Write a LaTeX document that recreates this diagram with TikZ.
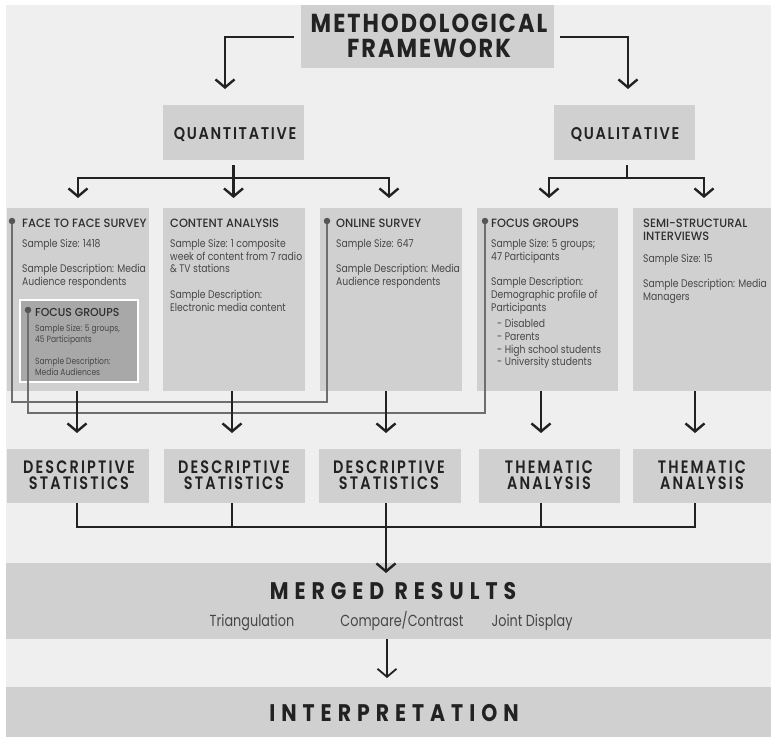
\documentclass[tikz,border=0pt]{standalone}
\usepackage{fontspec}
\setmainfont{Poppins}
\usetikzlibrary{arrows.meta}

% type faces
\newfontfamily\fTitle{Poppins Bold}[FakeStretch=0.86,LetterSpace=8]
\newfontfamily\fBranch{Poppins SemiBold}[FakeStretch=0.85,LetterSpace=10]
\newfontfamily\fResult{Poppins SemiBold}[FakeStretch=0.8,LetterSpace=12]
\newfontfamily\fBig{Poppins Bold}[FakeStretch=0.85,LetterSpace=25]
\newfontfamily\fHead{Poppins Medium}[FakeStretch=0.95]
\newfontfamily\fBody{Poppins}[FakeStretch=0.84]
\newfontfamily\fSub{Poppins}[FakeStretch=0.8]

% palette
\definecolor{bg}{HTML}{EFEFEF}
\definecolor{boxgray}{HTML}{D0D0D0}
\definecolor{darkbox}{HTML}{A8A8A8}
\definecolor{ink}{HTML}{222222}
\definecolor{headink}{HTML}{2E2E2E}
\definecolor{bodyink}{HTML}{474747}
\definecolor{linkgray}{HTML}{6E6E6E}
\definecolor{dotgray}{HTML}{555555}

\begin{document}
\begin{tikzpicture}[x=1pt,y=-1pt,
  box/.style={fill=boxgray, inner sep=0pt, anchor=north west},
  rule/.style={draw=ink, line width=2.4pt},
  flow/.style={rule, -{Straight Barb[length=8pt,width=19pt]}},
  thinflow/.style={draw=ink, line width=1.8pt, -{Straight Barb[length=8pt,width=19pt]}},
  link/.style={draw=linkgray, line width=1.3pt},
  dot/.style={circle, fill=dotgray, inner sep=0pt, minimum size=6.5pt},
  txt/.style={inner sep=0pt, anchor=base west},
  ctxt/.style={inner sep=0pt, anchor=base},
  titletxt/.style={ctxt, text=ink, font=\fTitle\fontsize{26}{26}\selectfont},
  branchtxt/.style={ctxt, text=ink, font=\fBranch\fontsize{17}{17}\selectfont},
  resulttxt/.style={inner sep=0pt, anchor=center, align=center, text=ink,
                    font=\fResult\fontsize{18}{16}\selectfont},
  bigtxt/.style={ctxt, text=ink, font=\fBig\fontsize{24}{24}\selectfont},
  subtxt/.style={ctxt, text=bodyink, font=\fSub\fontsize{16}{16}\selectfont},
  headtxt/.style={txt, text=headink, font=\fHead\fontsize{12}{12}\selectfont},
  bodytxt/.style={txt, text=bodyink, font=\fBody\fontsize{11}{11}\selectfont},
  smalltxt/.style={txt, text=bodyink, font=\fBody\fontsize{9}{9}\selectfont},
]
\useasboundingbox (0,0) rectangle (771,737);
\fill[bg] (6,5) rectangle (771,737);

% ---------- boxes ----------
\node[box, minimum width=253pt, minimum height=63pt] (title) at (301,5) {};
\node[box, minimum width=141pt, minimum height=55pt] (quant) at (163,105) {};
\node[box, minimum width=141pt, minimum height=55pt] (qual)  at (554,105) {};

\node[box, minimum width=142pt, minimum height=183pt] (m1) at (7,208) {};
\node[box, minimum width=142pt, minimum height=183pt] (m2) at (163,208) {};
\node[box, minimum width=142pt, minimum height=183pt] (m3) at (320,208) {};
\node[box, minimum width=141pt, minimum height=183pt] (m4) at (477,208) {};
\node[box, minimum width=138pt, minimum height=183pt] (m5) at (633,208) {};
\node[box, fill=darkbox, draw=white, line width=2pt,
      minimum width=118pt, minimum height=82pt] (fg) at (19,299) {};

\node[box, minimum width=142pt, minimum height=54pt] (r1) at (7,449) {};
\node[box, minimum width=141pt, minimum height=54pt] (r2) at (164,449) {};
\node[box, minimum width=142pt, minimum height=54pt] (r3) at (319,449) {};
\node[box, minimum width=141pt, minimum height=54pt] (r4) at (479,449) {};
\node[box, minimum width=138pt, minimum height=54pt] (r5) at (633,449) {};

\node[box, minimum width=765pt, minimum height=76pt] (merged) at (6,563) {};
\node[box, minimum width=765pt, minimum height=50pt] (interp) at (6,687) {};

% ---------- headings ----------
\node[titletxt] (tl1) at (429,32) {METHODOLOGICAL};
\node[titletxt] (tl2) at (429,57) {FRAMEWORK};
\node[branchtxt] (qnt) at (235,139) {QUANTITATIVE};
\node[branchtxt] (qlt) at (625,139) {QUALITATIVE};

\node[resulttxt] (r1t) at (79,475.5) {DESCRIPTIVE\\STATISTICS};
\node[resulttxt] (r2t) at (234,475.5) {DESCRIPTIVE\\STATISTICS};
\node[resulttxt] (r3t) at (389,475.5) {DESCRIPTIVE\\STATISTICS};
\node[resulttxt] (r4t) at (549,475.5) {THEMATIC\\ANALYSIS};
\node[resulttxt] (r5t) at (702,475.5) {THEMATIC\\ANALYSIS};

\node[bigtxt] (mrg) at (393,599.5) {MERGED RESULTS};
\node[subtxt] (s1) at (252,626) {Triangulation};
\node[subtxt] (s2) at (402,626) {Compare/Contrast};
\node[subtxt] (s3) at (532,626) {Joint Display};
\node[bigtxt] (itp) at (394,721.5) {INTERPRETATION};

% ---------- method box contents ----------
\node[headtxt] (h1) at (22,227) {FACE TO FACE SURVEY};
\node[bodytxt] (b11) at (22,247) {Sample Size: 1418};
\node[bodytxt] (b12) at (22,272.5) {Sample Description: Media};
\node[bodytxt] (b13) at (22,285) {Audience respondents};

\node[headtxt, font=\fHead\fontsize{11.5}{11.5}\selectfont] (h1f) at (35,316) {FOCUS GROUPS};
\node[smalltxt] (f11) at (35,331) {Sample Size: 5 groups,};
\node[smalltxt] (f12) at (35,342) {45 Participants};
\node[smalltxt] (f13) at (35,364.5) {Sample Description:};
\node[smalltxt] (f14) at (35,375.5) {Media Audiences};

\node[headtxt] (h2) at (170,227) {CONTENT ANALYSIS};
\node[bodytxt] (b21) at (170,247) {Sample Size: 1 composite};
\node[bodytxt] (b22) at (170,260) {week of content from 7 radio};
\node[bodytxt] (b23) at (170,272.5) {\& TV stations};
\node[bodytxt] (b24) at (170,298) {Sample Description:};
\node[bodytxt] (b25) at (170,311) {Electronic media content};

\node[headtxt] (h3) at (336,227) {ONLINE SURVEY};
\node[bodytxt] (b31) at (336,247) {Sample Size: 647};
\node[bodytxt] (b32) at (336,272.5) {Sample Description: Media};
\node[bodytxt] (b33) at (336,285) {Audience respondents};

\node[headtxt] (h4) at (491,227) {FOCUS GROUPS};
\node[bodytxt] (b41) at (491,247) {Sample Size: 5 groups;};
\node[bodytxt] (b42) at (491,260) {47 Participants};
\node[bodytxt] (b43) at (491,285) {Sample Description:};
\node[bodytxt] (b44) at (491,298) {Demographic profile of};
\node[bodytxt] (b45) at (491,311) {Participants};
\node[bodytxt] (b46) at (497,327) {- Disabled};
\node[bodytxt] (b47) at (497,340) {- Parents};
\node[bodytxt] (b48) at (497,353) {- High school students};
\node[bodytxt] (b49) at (497,365.5) {- University students};

\node[headtxt] (h5a) at (643,227) {SEMI-STRUCTURAL};
\node[headtxt] (h5b) at (643,240) {INTERVIEWS};
\node[bodytxt] (b51) at (643,262) {Sample Size: 15};
\node[bodytxt] (b52) at (643,287) {Sample Description: Media};
\node[bodytxt] (b53) at (643,300) {Managers};

% ---------- cross links between related samples ----------
\node[dot] (d1) at (12,221) {};
\node[dot] (d3) at (327,221) {};
\node[dot] (d2) at (28,310) {};
\node[dot] (d4) at (485,221) {};
\coordinate (l1) at (0,402);
\coordinate (l2) at (0,413);
\draw[link] (d1) -- (d1 |- l1) -| (d3);
\draw[link] (d2) -- (d2 |- l2) -| (d4);

% ---------- connector columns ----------
\coordinate (ta) at (225,89);
\coordinate (tb) at (628,89);
\coordinate (qsplit) at (233.5,178);
\coordinate (lsplit) at (627,178);
\coordinate (tipy) at (0,198);
\coordinate (c1) at (77,0);
\coordinate (c2) at (232,0);
\coordinate (c3) at (386,0);
\coordinate (c4) at (541,0);
\coordinate (c5) at (695,0);
\coordinate (c6) at (387,0);
\coordinate (downy) at (0,433);
\coordinate (joiny) at (0,527);

% title to the two strands
\draw[flow] ([xshift=-7pt]title.west) -| (ta);
\draw[flow] ([xshift=6pt]title.east) -| (tb);

% quantitative split
\draw[rule] ([yshift=-5pt]quant.south -| qsplit) -- (qsplit);
\draw[flow] (qsplit) -- (qsplit |- tipy);
\draw[flow] (qsplit) -| (78,198);
\draw[flow] (qsplit) -| (389,198);

% qualitative split
\draw[rule] ([yshift=-5pt]qual.south -| lsplit) -- (lsplit);
\draw[flow] (lsplit) -| (549,198);
\draw[flow] (lsplit) -| (704,198);

% methods to analyses
\draw[flow] (m1.south -| c1) -- (c1 |- downy);
\draw[flow] (m2.south -| c2) -- (c2 |- downy);
\draw[flow] (m3.south -| c3) -- (c3 |- downy);
\draw[flow] (m4.south -| c4) -- (c4 |- downy);
\draw[flow] (m5.south -| c5) -- (c5 |- downy);

% analyses merged
\draw[rule] (r1.south -| c1) -- (c1 |- joiny) -- (c5 |- joiny) -- (r5.south -| c5);
\draw[rule] (r2.south -| c2) -- (c2 |- joiny);
\draw[rule] (r4.south -| c4) -- (c4 |- joiny);
\draw[flow] (r3.south -| c3) -- ([yshift=-10pt]merged.north -| c3);

% merged results to interpretation
\draw[thinflow] (merged.south -| c6) -- ([yshift=9pt]interp.north -| c6);
\end{tikzpicture}
\end{document}
